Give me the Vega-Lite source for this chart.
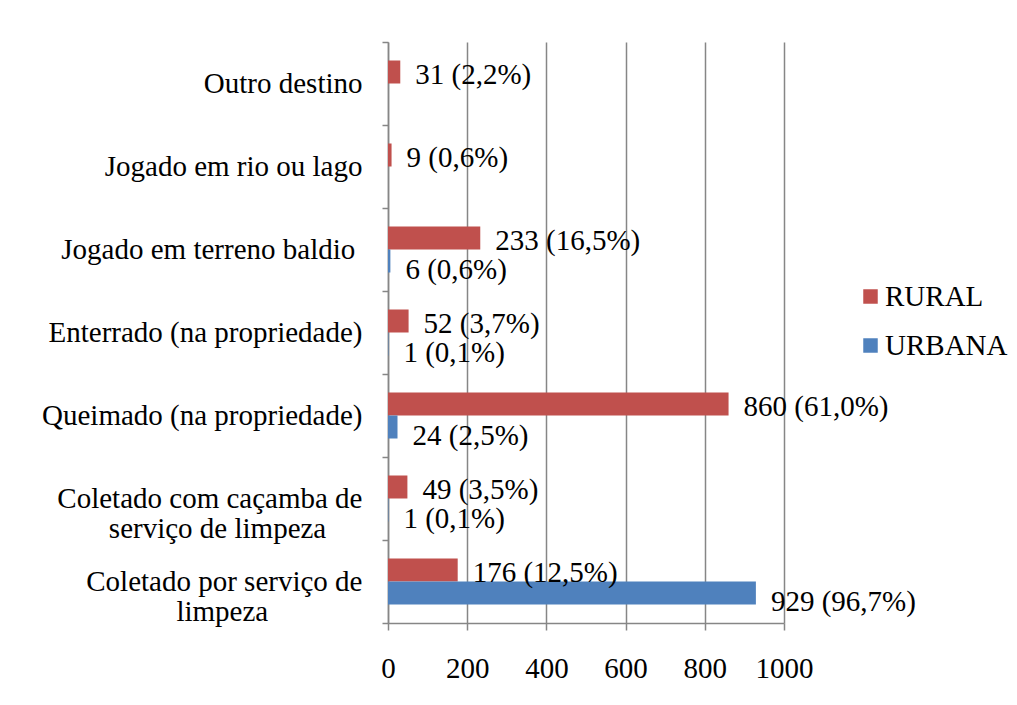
{
  "$schema": "https://vega.github.io/schema/vega-lite/v6.json",
  "width": 396,
  "height": 581,
  "autosize": "none",
  "padding": {"left": 388, "top": 42, "right": 233, "bottom": 82},
  "background": "white",
  "config": {"font": "Liberation Serif", "view": {"stroke": null}},
  "data": {"values": [
    {"cat": "Outro destino", "serie": "RURAL", "value": 31, "label": "31 (2,2%)"},
    {"cat": "Jogado em rio ou lago", "serie": "RURAL", "value": 9, "label": "9 (0,6%)"},
    {"cat": "Jogado em terreno baldio", "serie": "RURAL", "value": 233, "label": "233 (16,5%)"},
    {"cat": "Jogado em terreno baldio", "serie": "URBANA", "value": 6, "label": "6 (0,6%)"},
    {"cat": "Enterrado (na propriedade)", "serie": "RURAL", "value": 52, "label": "52 (3,7%)"},
    {"cat": "Enterrado (na propriedade)", "serie": "URBANA", "value": 1, "label": "1 (0,1%)"},
    {"cat": "Queimado (na propriedade)", "serie": "RURAL", "value": 860, "label": "860 (61,0%)"},
    {"cat": "Queimado (na propriedade)", "serie": "URBANA", "value": 24, "label": "24 (2,5%)"},
    {"cat": "Coletado com caçamba de serviço de limpeza", "serie": "RURAL", "value": 49, "label": "49 (3,5%)"},
    {"cat": "Coletado com caçamba de serviço de limpeza", "serie": "URBANA", "value": 1, "label": "1 (0,1%)"},
    {"cat": "Coletado por serviço de limpeza", "serie": "RURAL", "value": 176, "label": "176 (12,5%)"},
    {"cat": "Coletado por serviço de limpeza", "serie": "URBANA", "value": 929, "label": "929 (96,7%)"}
  ]},
  "encoding": {
    "y": {
      "field": "cat",
      "type": "nominal",
      "sort": ["Outro destino", "Jogado em rio ou lago", "Jogado em terreno baldio", "Enterrado (na propriedade)", "Queimado (na propriedade)", "Coletado com caçamba de serviço de limpeza", "Coletado por serviço de limpeza"],
      "scale": {"paddingInner": 0, "paddingOuter": 0},
      "title": null,
      "axis": {
        "domainColor": "#868686",
        "domainWidth": 1.5,
        "tickColor": "#868686",
        "tickWidth": 1.5,
        "tickSize": 6,
        "tickBand": "extent",
        "labelFontSize": 29,
        "labelColor": "black",
        "labelPadding": 20,
        "labelLimit": 0,
        "labelLineHeight": 30,
        "labelExpr": "datum.label == 'Coletado com caçamba de serviço de limpeza' ? ['Coletado com caçamba de', 'serviço de limpeza\u00a0\u00a0\u00a0\u00a0\u00a0\u200b'] : datum.label == 'Coletado por serviço de limpeza' ? ['Coletado por serviço de', 'limpeza\u00a0\u00a0\u00a0\u00a0\u00a0\u00a0\u00a0\u00a0\u00a0\u00a0\u00a0\u00a0\u00a0\u200b'] : datum.label == 'Jogado em terreno baldio' ? 'Jogado em terreno baldio\u00a0\u200b' : datum.label"
      }
    },
    "yOffset": {
      "field": "serie",
      "type": "nominal",
      "scale": {"domain": ["RURAL", "URBANA"], "paddingOuter": 0.804, "paddingInner": 0}
    }
  },
  "layer": [
    {
      "mark": {"type": "bar"},
      "encoding": {
        "x": {
          "field": "value",
          "type": "quantitative",
          "scale": {"domain": [0, 1000], "nice": false},
          "title": null,
          "axis": {
            "values": [0, 200, 400, 600, 800, 1000],
            "format": "d",
            "grid": true,
            "gridColor": "#868686",
            "gridWidth": 1.5,
            "domainColor": "#868686",
            "domainWidth": 1.5,
            "tickColor": "#868686",
            "tickWidth": 1.5,
            "tickSize": 7,
            "labelFontSize": 29,
            "labelColor": "black",
            "labelPadding": 24,
            "labelFlush": false
          }
        },
        "color": {
          "field": "serie",
          "type": "nominal",
          "scale": {"domain": ["RURAL", "URBANA"], "range": ["#C0504D", "#4F81BD"]},
          "legend": {
            "title": null,
            "orient": "none",
            "legendX": 468,
            "legendY": 240,
            "symbolType": "square",
            "symbolSize": 210,
            "symbolStrokeWidth": 0,
            "labelFontSize": 29,
            "labelColor": "black",
            "labelOffset": 0,
            "rowPadding": 19
          }
        }
      }
    },
    {
      "transform": [{"filter": "datum.serie == 'RURAL'"}],
      "mark": {"type": "text", "align": "left", "baseline": "middle", "dx": 15, "dy": 3, "fontSize": 29, "color": "black"},
      "encoding": {
        "x": {"field": "value", "type": "quantitative"},
        "text": {"field": "label"}
      }
    },
    {
      "transform": [{"filter": "datum.serie == 'URBANA'"}],
      "mark": {"type": "text", "align": "left", "baseline": "middle", "dx": 15, "dy": 9, "fontSize": 29, "color": "black"},
      "encoding": {
        "x": {"field": "value", "type": "quantitative"},
        "text": {"field": "label"}
      }
    }
  ]
}
